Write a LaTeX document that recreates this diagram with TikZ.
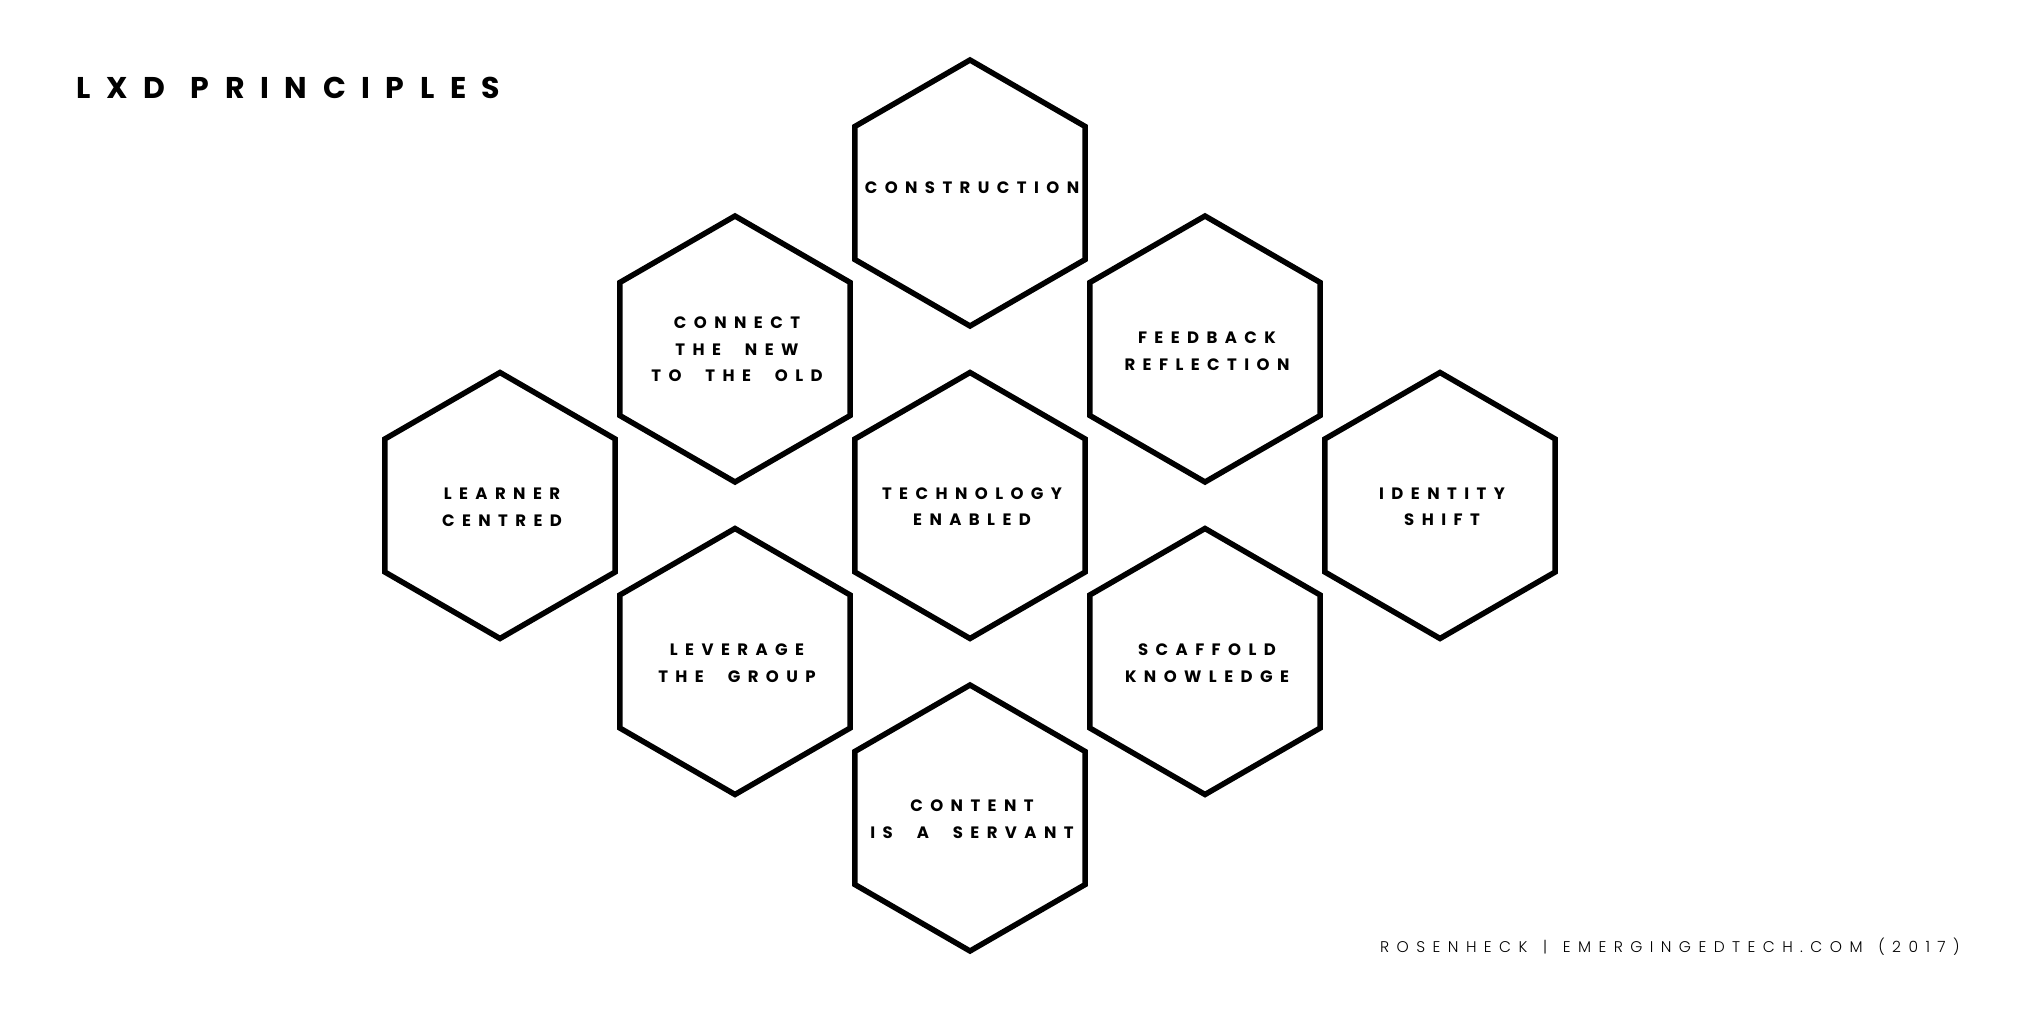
\documentclass[tikz,border=0pt]{standalone}
\usepackage{fontspec}
\usetikzlibrary{shapes.geometric}
\newfontfamily\hexfont[LetterSpace=45]{Poppins}
\newfontfamily\titlefont[LetterSpace=52]{Poppins}
\newfontfamily\footfont[LetterSpace=48]{Poppins Light}
\newcommand\wsp{\hspace{13pt}}
\newcommand\tsp{\hspace{4pt}}
\newcommand\fsp{\hspace{4pt}}
\begin{document}
\begin{tikzpicture}[x=1pt,y=-1pt,
  hexshape/.style={draw=black, line width=5.5pt, line join=miter,
    regular polygon, regular polygon sides=6, shape border rotate=30,
    minimum size=266pt, inner sep=0pt},
  lbl/.style={align=center, inner sep=0pt,
    font=\hexfont\bfseries\fontsize{16.5}{26.5}\selectfont}]
\useasboundingbox[fill=white] (0,0) rectangle (2024,1012);
\node[anchor=base west, inner sep=0pt, font=\titlefont\bfseries\fontsize{30}{34}\selectfont] (title) at (76,98) {LXD \tsp PRINCIPLES};
\node[anchor=base west, inner sep=0pt, font=\footfont\fontsize{15.5}{18}\selectfont] (footer) at (1380,952) {ROSENHECK \fsp| \fsp EMERGINGEDTECH.COM \fsp(2017)};
% hexagons
\node[hexshape] (h1) at (970,193) {};
\node[hexshape] (h2) at (735,349) {};
\node[hexshape] (h3) at (1205,349) {};
\node[hexshape] (h4) at (500,505.5) {};
\node[hexshape] (h5) at (970,505.5) {};
\node[hexshape] (h6) at (1440,505.5) {};
\node[hexshape] (h7) at (735,661.5) {};
\node[hexshape] (h8) at (1205,661.5) {};
\node[hexshape] (h9) at (970,818) {};
% labels
\node[lbl] (t1) at (972,187.5) {CONSTRUCTION};
\node[lbl] (t2) at (737,349.5) {CONNECT\\THE \wsp NEW\\TO \wsp THE \wsp OLD};
\node[lbl] (t3) at (1207,351) {FEEDBACK\\REFLECTION};
\node[lbl] (t4) at (502,507) {LEARNER\\CENTRED};
\node[lbl] (t5) at (972,506.5) {TECHNOLOGY\\ENABLED};
\node[lbl] (t6) at (1442,507) {IDENTITY\\SHIFT};
\node[lbl] (t7) at (737,663) {LEVERAGE\\THE \wsp GROUP};
\node[lbl] (t8) at (1207,663) {SCAFFOLD\\KNOWLEDGE};
\node[lbl] (t9) at (972,819) {CONTENT\\IS \wsp A \wsp SERVANT};
\end{tikzpicture}
\end{document}
